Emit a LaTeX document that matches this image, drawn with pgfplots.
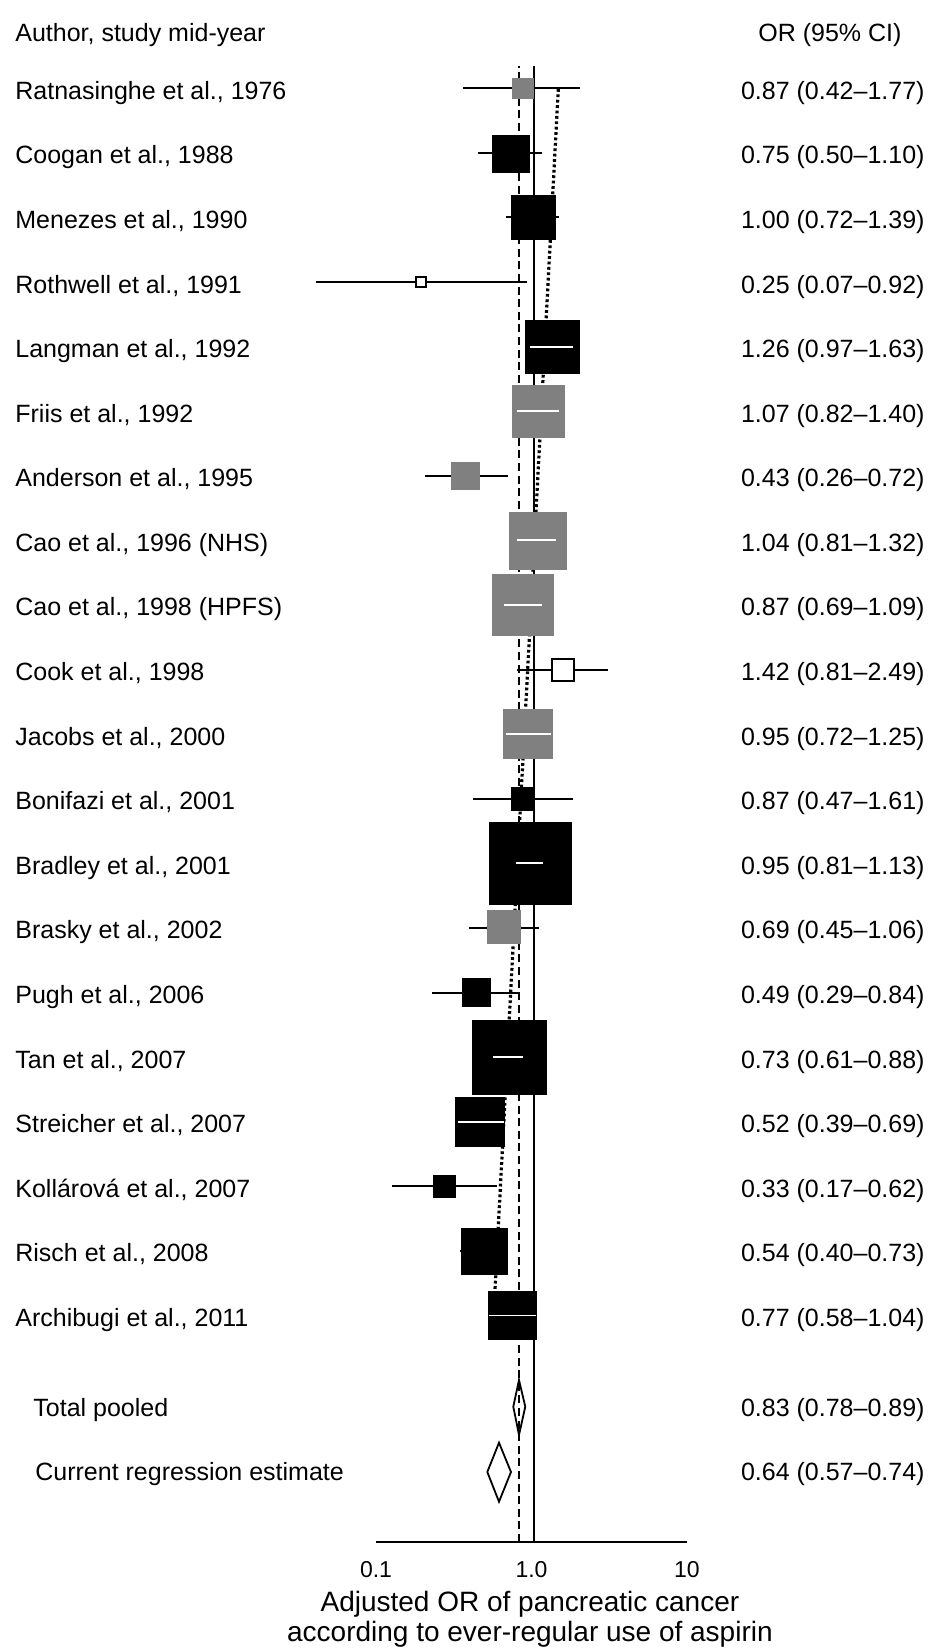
\documentclass[border=0pt]{standalone}
\usepackage{fontspec}
\setmainfont{Liberation Sans}
\usepackage{pgfplots}
\pgfplotsset{compat=1.18}
\usepackage{pgfplotstable}

\definecolor{boxgray}{RGB}{128,128,128}
\tikzset{lbl/.style={anchor=west, inner sep=0pt, font=\fontsize{12.5}{15}\selectfont, text height=8.95pt, text depth=0pt}}

% x = log10(OR) as drawn; y = vertical position (picture units)
\pgfplotstableread{
x y
-0.4373 1559.7
0.3119 1559.7
nan nan
-0.3421 1495.1
0.0695 1495.1
nan nan
-0.1640 1430.5
0.1788 1430.5
nan nan
-1.3859 1365.9
-0.0309 1365.9
nan nan
-0.6849 1172.2
-0.1492 1172.2
nan nan
-0.0913 978.4
0.4900 978.4
nan nan
-0.3743 849.2
0.2650 849.2
nan nan
-0.4000 720.0
0.0502 720.0
nan nan
-0.6379 655.4
-0.0804 655.4
nan nan
-0.8990 461.7
-0.2199 461.7
nan nan
-0.4598 397.1
-0.1492 397.1
}\cilines

\pgfplotstableread{
x y
-0.0096 1301.3
0.2650 1301.3
nan nan
-0.0952 1236.7
0.1788 1236.7
nan nan
-0.0913 1107.6
0.1576 1107.6
nan nan
-0.1749 1043.0
0.0656 1043.0
nan nan
-0.1640 913.8
0.1235 913.8
nan nan
-0.1016 784.6
0.0759 784.6
nan nan
-0.2457 590.8
-0.0547 590.8
nan nan
-0.4707 526.2
-0.1768 526.2
nan nan
-0.2733 332.5
0.0289 332.5
}\whitelines

\pgfplotstableread{
c y r
-0.0547 1559.7 5.15
0.0437 1236.7 13.0
-0.4244 1172.2 6.9
0.0386 1107.6 14.25
-0.0559 1043.0 15.25
-0.0206 913.8 12.25
-0.1801 721.0 8.25
}\grayboxes

\pgfplotstableread{
c y r
-0.1338 1494.5 9.18
0.0096 1430.5 11.0
0.1350 1301.3 13.4
-0.0547 849.2 5.75
-0.0077 784.6 20.68
-0.3524 655.4 7.0
-0.1447 590.8 18.5
-0.3293 526.5 12.25
-0.5608 461.7 5.5
-0.3055 397.1 11.5
-0.1209 332.5 12.0
}\blackboxes

\pgfplotstableread{
c y r
-0.7093 1365.9 2.58
0.1994 978.4 5.5
}\openboxes

\begin{document}
\begin{tikzpicture}
\begin{axis}[
  scale only axis, width=155.5pt, height=771pt,
  xmin=-1, xmax=1, ymin=106, ymax=1648,
  axis x line=bottom, axis y line=none,
  x axis line style={line width=1pt, -},
  xtick={-1,0,1}, xticklabels={\mbox{0.1},\mbox{1.0},\mbox{10}},
  major tick length=0pt,
  xticklabel style={anchor=center, yshift=-14pt, inner sep=0pt, font=\fontsize{11.5}{13}\selectfont},
  clip=false, clip marker paths=true,
]
% reference lines
\addplot[black, line width=1pt, dash pattern=on 4pt off 2.3pt] coordinates {(-0.0804,106) (-0.0804,1582)};
\addplot[black, line width=1pt] coordinates {(0.0161,106) (0.0161,1582)};
\addplot[black, line width=1.6pt, dash pattern=on 1.4pt off 1.3pt] coordinates {(0.1723,1559) (-0.2437,332)};
% confidence intervals
\addplot[black, line width=1pt, unbounded coords=jump, mark=none] table[x=x, y=y] \cilines;
% boxes
\addplot[scatter, only marks, mark=square*, scatter/use mapped color={draw=boxgray, fill=boxgray},
  visualization depends on={\thisrow{r} \as \msz},
  scatter/@pre marker code/.append style={/tikz/mark size=\msz},
  mark options={line width=0.3pt}] table[x=c, y=y] \grayboxes;
\addplot[scatter, only marks, mark=square*, scatter/use mapped color={draw=black, fill=black},
  visualization depends on={\thisrow{r} \as \msz},
  scatter/@pre marker code/.append style={/tikz/mark size=\msz},
  mark options={line width=0.3pt}] table[x=c, y=y] \blackboxes;
\addplot[scatter, only marks, mark=square*, scatter/use mapped color={draw=black, fill=white},
  visualization depends on={\thisrow{r} \as \msz},
  scatter/@pre marker code/.append style={/tikz/mark size=\msz},
  mark options={line width=1pt}] table[x=c, y=y] \openboxes;
% CI inside boxes
\addplot[white, line width=0.9pt, unbounded coords=jump, mark=none] table[x=x, y=y] \whitelines;
% diamonds
\addplot[black, line width=0.9pt, mark=none] coordinates {(-0.1170,241.3) (-0.0804,268) (-0.0399,241.3) (-0.0804,213) (-0.1170,241.3)};
\addplot[draw=black, fill=white, line width=0.9pt, mark=none] coordinates {(-0.2842,176) (-0.2090,205.3) (-0.1318,176) (-0.2090,146.3) (-0.2842,176)};

% header
\node[lbl] at (axis cs:-3.3215,1615) {Author, study mid-year};
\node[lbl] at (axis cs:1.4566,1615) {OR (95\% CI)};
% study labels
\node[lbl] at (axis cs:-3.3215,1557.7) {Ratnasinghe et al., 1976};
\node[lbl] at (axis cs:-3.3215,1493.1) {Coogan et al., 1988};
\node[lbl] at (axis cs:-3.3215,1428.5) {Menezes et al., 1990};
\node[lbl] at (axis cs:-3.3215,1363.9) {Rothwell et al., 1991};
\node[lbl] at (axis cs:-3.3215,1299.3) {Langman et al., 1992};
\node[lbl] at (axis cs:-3.3215,1234.7) {Friis et al., 1992};
\node[lbl] at (axis cs:-3.3215,1170.2) {Anderson et al., 1995};
\node[lbl] at (axis cs:-3.3215,1105.6) {Cao et al., 1996 (NHS)};
\node[lbl] at (axis cs:-3.3215,1041.0) {Cao et al., 1998 (HPFS)};
\node[lbl] at (axis cs:-3.3215,976.4) {Cook et al., 1998};
\node[lbl] at (axis cs:-3.3215,911.8) {Jacobs et al., 2000};
\node[lbl] at (axis cs:-3.3215,847.2) {Bonifazi et al., 2001};
\node[lbl] at (axis cs:-3.3215,782.6) {Bradley et al., 2001};
\node[lbl] at (axis cs:-3.3215,718.0) {Brasky et al., 2002};
\node[lbl] at (axis cs:-3.3215,653.4) {Pugh et al., 2006};
\node[lbl] at (axis cs:-3.3215,588.8) {Tan et al., 2007};
\node[lbl] at (axis cs:-3.3215,524.2) {Streicher et al., 2007};
\node[lbl] at (axis cs:-3.3215,459.7) {Kollárová et al., 2007};
\node[lbl] at (axis cs:-3.3215,395.1) {Risch et al., 2008};
\node[lbl] at (axis cs:-3.3215,330.5) {Archibugi et al., 2011};
\node[lbl] at (axis cs:-3.2058,240) {Total pooled};
\node[lbl] at (axis cs:-3.1929,176) {Current regression estimate};
% values
\node[lbl] at (axis cs:1.3453,1557.7) {0.87 (0.42–1.77)};
\node[lbl] at (axis cs:1.3453,1493.1) {0.75 (0.50–1.10)};
\node[lbl] at (axis cs:1.3453,1428.5) {1.00 (0.72–1.39)};
\node[lbl] at (axis cs:1.3453,1363.9) {0.25 (0.07–0.92)};
\node[lbl] at (axis cs:1.3453,1299.3) {1.26 (0.97–1.63)};
\node[lbl] at (axis cs:1.3453,1234.7) {1.07 (0.82–1.40)};
\node[lbl] at (axis cs:1.3453,1170.2) {0.43 (0.26–0.72)};
\node[lbl] at (axis cs:1.3453,1105.6) {1.04 (0.81–1.32)};
\node[lbl] at (axis cs:1.3453,1041.0) {0.87 (0.69–1.09)};
\node[lbl] at (axis cs:1.3453,976.4) {1.42 (0.81–2.49)};
\node[lbl] at (axis cs:1.3453,911.8) {0.95 (0.72–1.25)};
\node[lbl] at (axis cs:1.3453,847.2) {0.87 (0.47–1.61)};
\node[lbl] at (axis cs:1.3453,782.6) {0.95 (0.81–1.13)};
\node[lbl] at (axis cs:1.3453,718.0) {0.69 (0.45–1.06)};
\node[lbl] at (axis cs:1.3453,653.4) {0.49 (0.29–0.84)};
\node[lbl] at (axis cs:1.3453,588.8) {0.73 (0.61–0.88)};
\node[lbl] at (axis cs:1.3453,524.2) {0.52 (0.39–0.69)};
\node[lbl] at (axis cs:1.3453,459.7) {0.33 (0.17–0.62)};
\node[lbl] at (axis cs:1.3453,395.1) {0.54 (0.40–0.73)};
\node[lbl] at (axis cs:1.3453,330.5) {0.77 (0.58–1.04)};
\node[lbl] at (axis cs:1.3453,240) {0.83 (0.78–0.89)};
\node[lbl] at (axis cs:1.3453,176) {0.64 (0.57–0.74)};
% axis title
\node[anchor=base, inner sep=0pt, font=\fontsize{14}{15}\selectfont] at (axis cs:-0.01,37) {Adjusted OR of pancreatic cancer};
\node[anchor=base, inner sep=0pt, font=\fontsize{14}{15}\selectfont] at (axis cs:-0.01,7) {according to ever-regular use of aspirin};

\coordinate (bbBL) at (axis cs:-3.418,0);
\coordinate (bbTR) at (axis cs:2.5627,1648);
\end{axis}
\pgfresetboundingbox
\path[use as bounding box] (bbBL) rectangle (bbTR);
\end{tikzpicture}
\end{document}
